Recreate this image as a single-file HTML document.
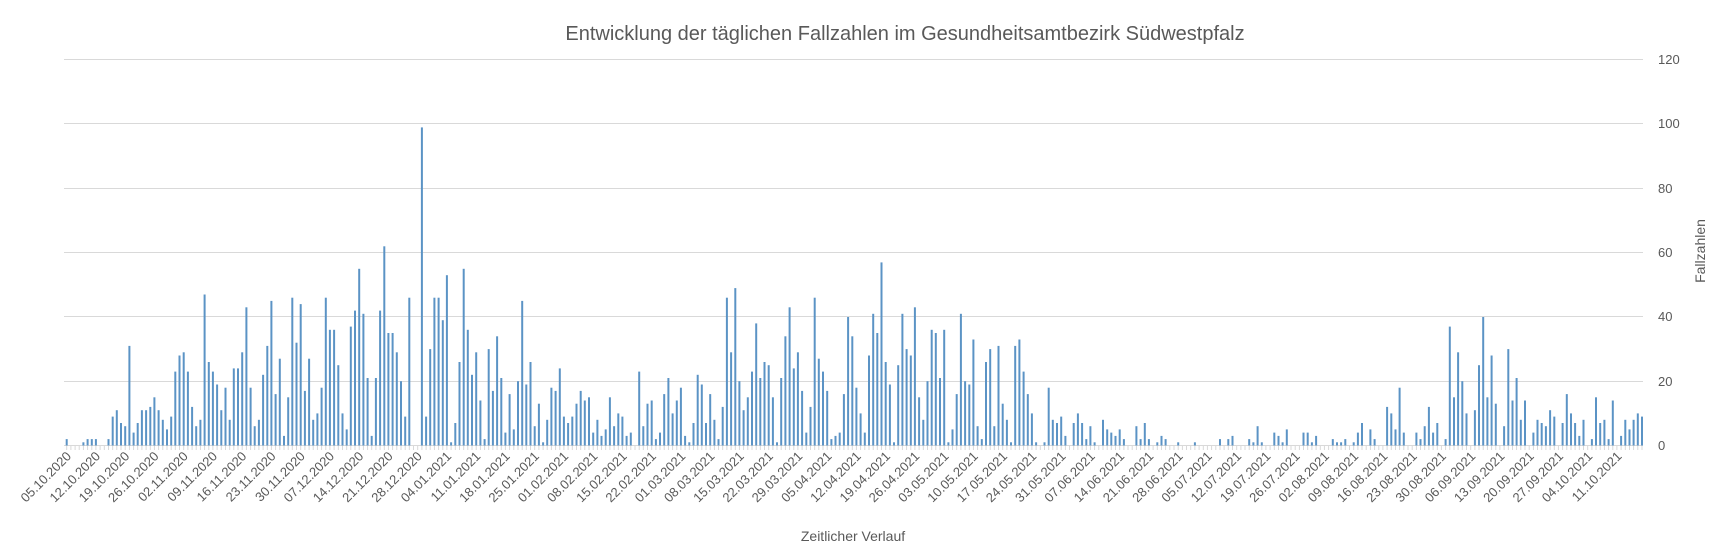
<!DOCTYPE html>
<html><head><meta charset="utf-8"><style>
html,body{margin:0;padding:0;background:#fff;}
svg{display:block;font-family:"Liberation Sans",sans-serif;}
</style></head><body>
<svg id="c" width="1724" height="559" viewBox="0 0 1724 559" xmlns="http://www.w3.org/2000/svg">
<rect width="1724" height="559" fill="#fff"/>
<g stroke="#d9d9d9" stroke-width="1">
<line x1="64" y1="59.5" x2="1643" y2="59.5"/>
<line x1="64" y1="123.5" x2="1643" y2="123.5"/>
<line x1="64" y1="188.5" x2="1643" y2="188.5"/>
<line x1="64" y1="252.5" x2="1643" y2="252.5"/>
<line x1="64" y1="316.5" x2="1643" y2="316.5"/>
<line x1="64" y1="381.5" x2="1643" y2="381.5"/>
<line x1="64" y1="445.5" x2="1643" y2="445.5"/>
</g>
<g id="ticks" stroke="#d9d9d9" stroke-width="1"></g>
<g id="bars" fill="#5b93c5"></g>
<g fill="#595959" font-size="13">
<text x="1658" y="64">120</text>
<text x="1658" y="128">100</text>
<text x="1658" y="193">80</text>
<text x="1658" y="257">60</text>
<text x="1658" y="321">40</text>
<text x="1658" y="386">20</text>
<text x="1658" y="450">0</text>
</g>
<text x="905" y="40" text-anchor="middle" font-size="20" fill="#595959">Entwicklung der täglichen Fallzahlen im Gesundheitsamtbezirk Südwestpfalz</text>
<text x="853" y="541" text-anchor="middle" font-size="14" fill="#595959">Zeitlicher Verlauf</text>
<text transform="translate(1705,251) rotate(-90)" text-anchor="middle" font-size="14" fill="#595959">Fallzahlen</text>
<g fill="#595959" font-size="13" text-anchor="end">
<text transform="translate(72,457) rotate(-45)">05.10.2020</text>
<text transform="translate(101,457) rotate(-45)">12.10.2020</text>
<text transform="translate(130.2,457) rotate(-45)">19.10.2020</text>
<text transform="translate(159.5,457) rotate(-45)">26.10.2020</text>
<text transform="translate(188.7,457) rotate(-45)">02.11.2020</text>
<text transform="translate(218,457) rotate(-45)">09.11.2020</text>
<text transform="translate(247.3,457) rotate(-45)">16.11.2020</text>
<text transform="translate(276.5,457) rotate(-45)">23.11.2020</text>
<text transform="translate(305.8,457) rotate(-45)">30.11.2020</text>
<text transform="translate(335,457) rotate(-45)">07.12.2020</text>
<text transform="translate(364.3,457) rotate(-45)">14.12.2020</text>
<text transform="translate(393.6,457) rotate(-45)">21.12.2020</text>
<text transform="translate(422.8,457) rotate(-45)">28.12.2020</text>
<text transform="translate(452.1,457) rotate(-45)">04.01.2021</text>
<text transform="translate(481.3,457) rotate(-45)">11.01.2021</text>
<text transform="translate(510.6,457) rotate(-45)">18.01.2021</text>
<text transform="translate(539.9,457) rotate(-45)">25.01.2021</text>
<text transform="translate(569.1,457) rotate(-45)">01.02.2021</text>
<text transform="translate(598.4,457) rotate(-45)">08.02.2021</text>
<text transform="translate(627.6,457) rotate(-45)">15.02.2021</text>
<text transform="translate(656.9,457) rotate(-45)">22.02.2021</text>
<text transform="translate(686.2,457) rotate(-45)">01.03.2021</text>
<text transform="translate(715.4,457) rotate(-45)">08.03.2021</text>
<text transform="translate(744.7,457) rotate(-45)">15.03.2021</text>
<text transform="translate(773.9,457) rotate(-45)">22.03.2021</text>
<text transform="translate(803.2,457) rotate(-45)">29.03.2021</text>
<text transform="translate(832.5,457) rotate(-45)">05.04.2021</text>
<text transform="translate(861.7,457) rotate(-45)">12.04.2021</text>
<text transform="translate(891,457) rotate(-45)">19.04.2021</text>
<text transform="translate(920.2,457) rotate(-45)">26.04.2021</text>
<text transform="translate(949.5,457) rotate(-45)">03.05.2021</text>
<text transform="translate(978.8,457) rotate(-45)">10.05.2021</text>
<text transform="translate(1008,457) rotate(-45)">17.05.2021</text>
<text transform="translate(1037.3,457) rotate(-45)">24.05.2021</text>
<text transform="translate(1066.5,457) rotate(-45)">31.05.2021</text>
<text transform="translate(1095.8,457) rotate(-45)">07.06.2021</text>
<text transform="translate(1125.1,457) rotate(-45)">14.06.2021</text>
<text transform="translate(1154.3,457) rotate(-45)">21.06.2021</text>
<text transform="translate(1183.6,457) rotate(-45)">28.06.2021</text>
<text transform="translate(1212.8,457) rotate(-45)">05.07.2021</text>
<text transform="translate(1242.1,457) rotate(-45)">12.07.2021</text>
<text transform="translate(1271.4,457) rotate(-45)">19.07.2021</text>
<text transform="translate(1300.6,457) rotate(-45)">26.07.2021</text>
<text transform="translate(1329.9,457) rotate(-45)">02.08.2021</text>
<text transform="translate(1359.1,457) rotate(-45)">09.08.2021</text>
<text transform="translate(1388.4,457) rotate(-45)">16.08.2021</text>
<text transform="translate(1417.7,457) rotate(-45)">23.08.2021</text>
<text transform="translate(1446.9,457) rotate(-45)">30.08.2021</text>
<text transform="translate(1476.2,457) rotate(-45)">06.09.2021</text>
<text transform="translate(1505.4,457) rotate(-45)">13.09.2021</text>
<text transform="translate(1534.7,457) rotate(-45)">20.09.2021</text>
<text transform="translate(1564,457) rotate(-45)">27.09.2021</text>
<text transform="translate(1593.2,457) rotate(-45)">04.10.2021</text>
<text transform="translate(1622.5,457) rotate(-45)">11.10.2021</text>
</g>
</svg>
<script>
var d=[2,0,0,0,1,2,2,2,0,0,2,9,11,7,6,31,4,7,11,11,12,15,11,8,5,9,23,28,29,23,12,6,8,47,26,23,19,11,18,8,24,24,29,43,18,6,8,22,31,45,16,27,3,15,46,32,44,17,27,8,10,18,46,36,
36,25,10,5,37,42,55,41,21,3,21,42,62,35,35,29,20,9,46,0,0,99,9,30,46,46,39,53,1,7,26,55,36,22,29,14,2,30,17,34,21,4,16,5,20,45,19,26,6,13,1,8,18,17,24,9,7,9,13,17,14,
15,4,8,3,5,15,6,10,9,3,4,0,23,6,13,14,2,4,16,21,10,14,18,3,1,7,22,19,7,16,8,2,12,46,29,49,20,11,15,23,38,21,26,25,15,1,21,34,43,24,29,17,4,12,46,27,23,17,2,3,4,16,
40,34,18,10,4,28,41,35,57,26,19,1,25,41,30,28,43,15,8,20,36,35,21,36,1,5,16,41,20,19,33,6,2,26,30,6,31,13,8,1,31,33,23,16,10,1,0,1,18,8,7,9,3,0,7,10,7,2,6,1,
0,8,5,4,3,5,2,0,0,6,2,7,2,0,1,3,2,0,0,1,0,0,0,1,0,0,0,0,0,2,0,2,3,0,0,0,2,1,6,1,0,0,4,3,1,5,0,0,0,4,4,1,3,0,0,0,2,1,1,2,0,1,
4,7,0,5,2,0,0,12,10,5,18,4,0,0,4,2,6,12,4,7,0,2,37,15,29,20,10,0,11,25,40,15,28,13,0,6,30,14,21,8,14,0,4,8,7,6,11,9,0,7,16,10,7,3,8,0,2,15,7,8,2,14,0,3,8,5,8,10,9];
var ns="http://www.w3.org/2000/svg",b=document.getElementById("bars"),t=document.getElementById("ticks");
var s=(1642-66.7)/377;
for(var i=0;i<=377;i++){var x=66.7+i*s;
var l=document.createElementNS(ns,"line");l.setAttribute("x1",x.toFixed(1));l.setAttribute("x2",x.toFixed(1));l.setAttribute("y1",446);l.setAttribute("y2",450);t.appendChild(l);
if(i<d.length&&d[i]>0){var r=document.createElementNS(ns,"rect");var h=d[i]*3.213;
r.setAttribute("x",(x-1).toFixed(1));r.setAttribute("y",(445.5-h).toFixed(1));r.setAttribute("width",2);r.setAttribute("height",h.toFixed(1));b.appendChild(r);}}
</script>
</body></html>
